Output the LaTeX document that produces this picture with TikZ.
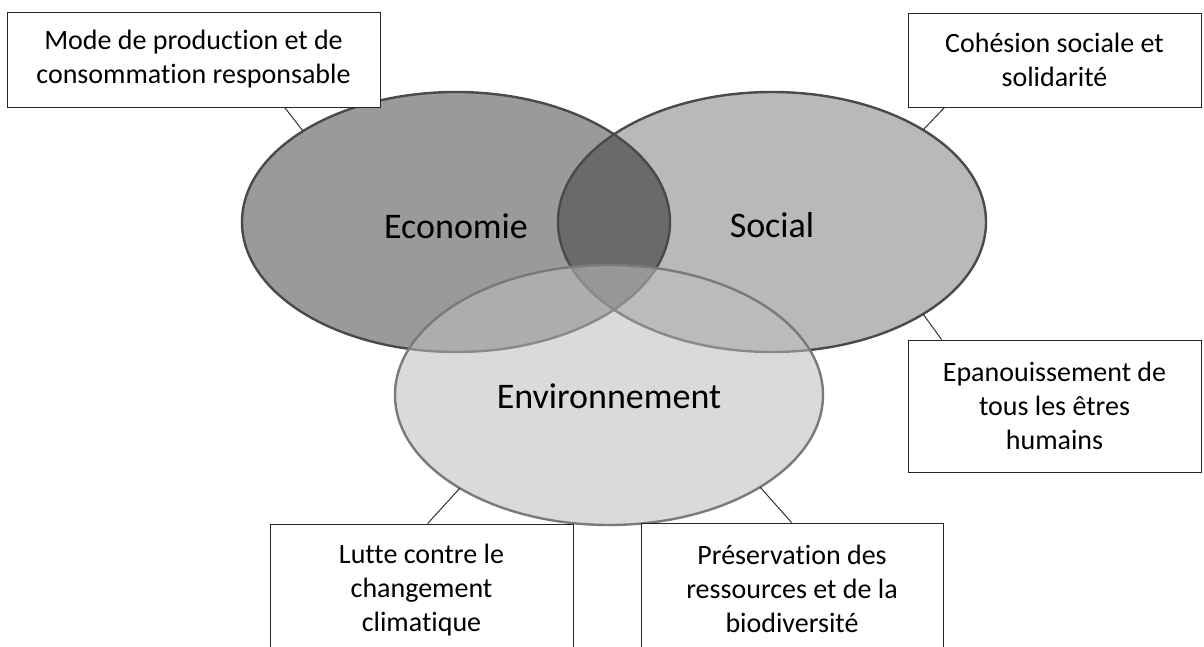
\documentclass[tikz,border=0pt]{standalone}
\usepackage{fontspec}
\setmainfont{Carlito}[Ligatures={NoCommon,NoContextual}]
\usetikzlibrary{calc}
\definecolor{ecofill}{HTML}{9A9A9A}
\definecolor{socfill}{HTML}{B9B9B9}
\definecolor{lensfill}{HTML}{6A6A6A}
\definecolor{envfill}{HTML}{BDBDBD}
\definecolor{ringdark}{HTML}{4A4A4A}
\definecolor{ringenv}{HTML}{7A7A7A}
\begin{document}
\begin{tikzpicture}[x=1pt,y=-1pt,
  box/.style={draw=black!85, line width=0.8pt, fill=white, align=center, inner sep=0pt,
              font=\fontsize{28}{34}\selectfont},
  conn/.style={draw=black!80, line width=1pt},
  big/.style={font=\fontsize{36}{40}\selectfont, inner sep=0pt}]
\useasboundingbox (0,0) rectangle (1204,647);
\clip (0,0) rectangle (1204,647);
\fill[white] (0,0) rectangle (1204,647);

% Economie and Social fills
\fill[ecofill] (456,222) ellipse [x radius=214, y radius=130];
\fill[socfill] (772,222) ellipse [x radius=214, y radius=130];
\begin{scope}
  \clip (456,222) ellipse [x radius=214, y radius=130];
  \fill[lensfill] (772,222) ellipse [x radius=214, y radius=130];
\end{scope}
\draw[ringdark, line width=2.4pt] (456,222) ellipse [x radius=214, y radius=130];
\draw[ringdark, line width=2.4pt] (772,222) ellipse [x radius=214, y radius=130];

% Environnement (semi-transparent)
\fill[envfill, opacity=0.55] (609,395) ellipse [x radius=214, y radius=130];
\draw[ringenv, line width=2.4pt] (609,395) ellipse [x radius=214, y radius=130];

% points on the ellipses
\coordinate (p1) at (303,131);
\coordinate (p2) at (923,130);
\coordinate (p3) at (923,314);
\coordinate (p4) at (460,488);
\coordinate (p5) at (760,487);

% labels
\node[big] (leco) at (456,226) {Economie};
\node[big] (lsoc) at (772,225) {Social};
\node[big] (lenv) at (609,396) {Environnement};

% boxes
\node[box, minimum width=373pt, minimum height=95pt] (box1) at (193.5,59.5)
  {Mode de production et de\\consommation responsable};
\node[box, minimum width=293pt, minimum height=94pt] (box2) at (1054.5,60)
  {Cohésion sociale et\\solidarité};
\node[box, minimum width=293pt, minimum height=132pt] (box3) at (1054.5,406)
  {Epanouissement de\\tous les êtres\\humains};
\node[box, minimum width=303pt, minimum height=132pt] (box4) at (421.5,590)
  {Lutte contre le\\changement\\climatique};
\node[box, minimum width=302pt, minimum height=132pt] (box5) at (792,589)
  {Préservation des\\ressources et de la\\biodiversité};

% connectors
\draw[conn] ([xshift=278pt]box1.south west) -- (p1);
\draw[conn] ([xshift=37pt]box2.south west) -- (p2);
\draw[conn] ([xshift=34pt]box3.north west) -- (p3);
\draw[conn] ([xshift=158pt]box4.north west) -- (p4);
\draw[conn] ([xshift=151pt]box5.north west) -- (p5);
\end{tikzpicture}
\end{document}
